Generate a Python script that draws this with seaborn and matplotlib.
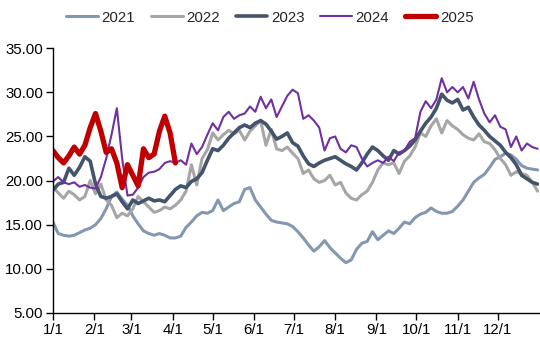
import numpy as np
import pandas as pd
import seaborn as sns
import matplotlib.pyplot as plt

sns.set_style("white")
plt.rcParams["font.family"] = ["Liberation Sans", "DejaVu Sans"]

# day of year, every 4 days
days = list(range(0, 365, 4))

y2021 = [15.3, 14.0, 13.8, 13.7, 13.8, 14.1, 14.4, 14.6, 15.0, 15.7,
         16.8, 18.2, 18.7, 17.9, 17.2, 16.0, 15.1, 14.3, 14.0, 13.8,
         14.0, 13.8, 13.5, 13.5, 13.7, 14.7, 15.3, 16.0, 16.4, 16.3,
         16.6, 17.8, 16.6, 17.0, 17.4, 17.6, 19.0, 19.2, 17.8, 17.0,
         16.2, 15.5, 15.3, 15.2, 15.1, 14.8, 14.2, 13.5, 12.7, 12.0,
         12.5, 13.2, 12.4, 11.8, 11.2, 10.7, 11.0, 12.2, 12.9, 13.1,
         14.2, 13.3, 13.8, 14.3, 14.0, 14.6, 15.3, 15.1, 15.8, 16.2,
         16.4, 16.9, 16.5, 16.3, 16.3, 16.5, 17.1, 17.8, 18.8, 19.8,
         20.3, 20.7, 21.5, 22.4, 22.7, 23.1, 22.9, 22.4, 21.7, 21.4,
         21.3, 21.2]

y2022 = [19.3, 18.6, 18.0, 18.8, 18.4, 17.8, 18.2, 20.0, 18.5, 19.6,
         17.8, 17.2, 15.8, 16.3, 16.0, 16.8, 18.2, 17.6, 17.0, 16.4,
         16.6, 17.0, 16.8, 17.2, 17.8, 18.8, 21.8, 19.5, 22.5, 23.5,
         25.4, 24.6, 25.2, 25.7, 25.3, 25.7, 24.6, 25.6, 26.2, 26.8,
         24.0, 25.8, 23.6, 23.4, 23.8, 23.1, 22.5, 20.8, 21.2, 20.2,
         19.8, 20.0, 20.6, 19.5, 19.8, 18.6, 18.0, 17.8, 18.4, 18.8,
         19.8, 21.2, 22.0, 21.8, 22.0, 20.8, 22.2, 22.8, 23.8, 25.4,
         25.0, 26.2, 27.0, 25.4, 26.8, 26.2, 25.8, 25.2, 24.8, 24.6,
         25.3, 24.4, 24.2, 23.5, 22.5, 21.8, 20.6, 21.0, 20.8, 20.6,
         19.8, 18.8]

y2023 = [18.9, 19.6, 19.8, 21.4, 20.6, 21.5, 22.7, 22.2, 19.6, 18.2,
         18.0, 18.2, 18.5, 17.6, 16.8, 17.8, 17.4, 17.7, 18.0, 17.7,
         17.8, 17.6, 18.3, 19.0, 19.4, 19.2, 19.9, 20.2, 20.9, 22.3,
         23.6, 23.4, 24.0, 24.8, 25.4, 26.0, 26.3, 26.0, 26.5, 26.8,
         26.4, 25.6, 24.7, 25.0, 25.4, 24.3, 23.9, 22.8, 21.9, 21.6,
         22.0, 22.3, 22.5, 22.7, 22.3, 21.9, 21.6, 21.2, 22.0, 23.0,
         23.8, 23.4, 22.8, 22.3, 23.4, 23.0, 23.4, 23.9, 24.6, 25.6,
         26.5, 27.2, 28.2, 29.8, 29.1, 28.8, 29.2, 28.0, 28.3, 27.2,
         26.3, 25.7, 25.0, 24.5, 24.0, 23.2, 22.6, 21.8, 20.6, 20.2,
         19.8, 19.6]

y2024 = [19.9, 20.4, 19.8, 19.6, 19.8, 19.3, 19.5, 19.2, 19.1, 20.4,
         22.5, 25.2, 28.2, 22.5, 18.3, 18.4, 19.2, 20.4, 20.9, 21.0,
         21.3, 22.0, 22.2, 22.0, 22.3, 21.8, 24.2, 23.0, 23.8, 25.2,
         26.5, 25.7, 27.2, 27.8, 27.0, 27.4, 27.6, 28.4, 27.8, 29.5,
         28.2, 29.2, 27.2, 28.4, 29.6, 30.3, 29.9, 27.0, 27.4, 26.8,
         26.0, 23.4, 24.8, 25.0, 23.6, 23.2, 24.0, 23.8, 22.5, 21.6,
         22.0, 22.3, 22.0, 22.7, 22.2, 23.2, 23.4, 24.4, 24.8, 27.8,
         29.0, 28.2, 29.2, 31.6, 30.0, 30.6, 30.0, 30.6, 29.3, 31.2,
         29.2, 27.6, 26.6, 27.4, 26.1, 25.8, 23.8, 25.0, 23.4, 24.2,
         23.8, 23.6]

y2025 = [23.4, 22.6, 22.0, 22.8, 23.8, 23.0, 24.0, 26.0, 27.6, 25.6,
         23.2, 23.6, 22.0, 19.2, 21.8, 20.6, 19.4, 23.6, 22.6, 23.0,
         25.6, 27.3, 25.4, 22.0]

years = ["2021", "2022", "2023", "2024", "2025"]
series = [y2021, y2022, y2023, y2024, y2025]
colors = ["#8497B0", "#A6A6A6", "#44546A", "#7030A0", "#C00000"]
widths = [2.2, 2.2, 2.6, 1.5, 3.8]

tick_days = [0, 31, 59, 90, 120, 151, 181, 212, 243, 273, 304, 334]
tick_labels = ["1/1", "2/1", "3/1", "4/1", "5/1", "6/1", "7/1", "8/1",
               "9/1", "10/1", "11/1", "12/1"]

rows = []
for yr, vals in zip(years, series):
    for d, v in zip(days, vals):
        rows.append({"year": yr, "day": d, "value": v})
df = pd.DataFrame(rows)

fig = plt.figure(figsize=(5.4, 3.52), dpi=100)
ax = fig.add_axes([0.098, 0.111, 0.9, 0.752])

for yr, col, lw in zip(years, colors, widths):
    sub = df[df["year"] == yr]
    sns.lineplot(data=sub, x="day", y="value", color=col, linewidth=lw,
                 label=yr, ax=ax, legend=False)

ax.set_xlim(0, 365)
ax.set_ylim(5, 35)
ax.set_yticks(np.arange(5, 36, 5))
ax.set_yticklabels([f"{v:.2f}" for v in np.arange(5, 36, 5)])
ax.set_xticks(tick_days)
ax.set_xticklabels(tick_labels)
ax.set_xlabel("")
ax.set_ylabel("")
ax.tick_params(axis="both", labelsize=10.8, length=5, width=1, color="black",
               direction="out", labelcolor="black", pad=2)
ax.tick_params(axis="x", bottom=True)
ax.tick_params(axis="y", left=True)
for s in ["top", "right"]:
    ax.spines[s].set_visible(False)
for s in ["left", "bottom"]:
    ax.spines[s].set_color("black")
    ax.spines[s].set_linewidth(1)

handles, labels = ax.get_legend_handles_labels()
fig.legend(handles, labels, loc="upper center", bbox_to_anchor=(0.5, 1.0),
           ncol=5, frameon=False, fontsize=10.8, handlelength=2.1,
           handletextpad=0.25, columnspacing=1.05, borderaxespad=0.3)

fig.savefig("out.png", dpi=100)
